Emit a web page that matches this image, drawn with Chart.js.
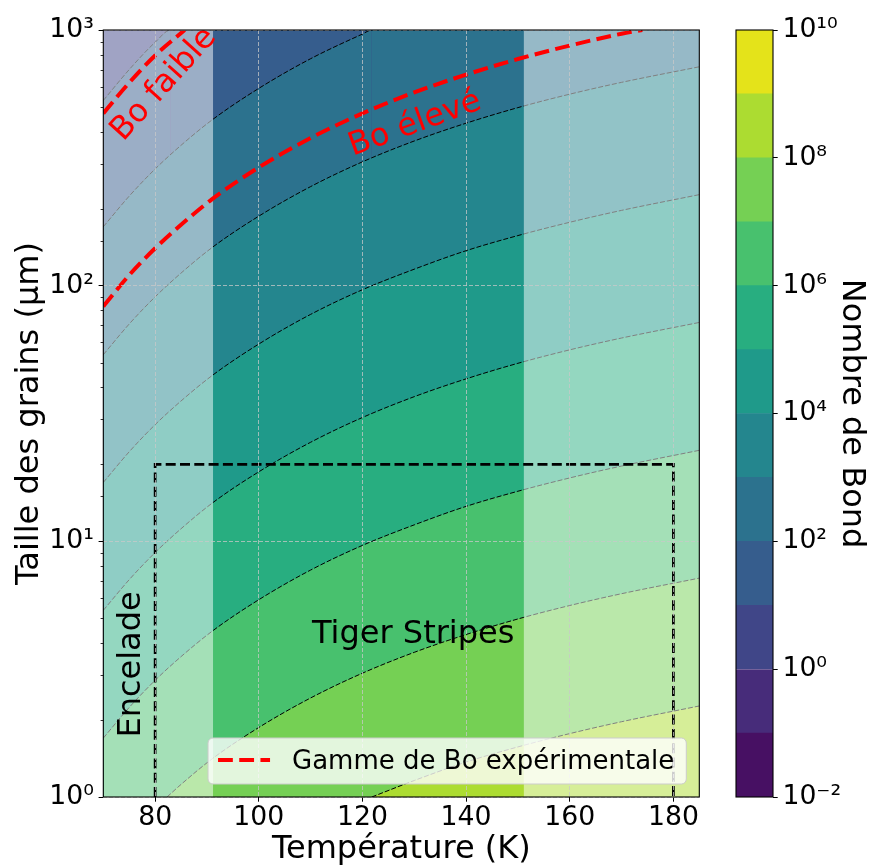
<!DOCTYPE html>
<html lang="fr">

<head>
    <meta charset="UTF-8">
    <title>Nombre de Bond</title>
    <script src="https://cdn.jsdelivr.net/npm/chart.js"></script>
    <style>
        body { margin: 0; background: #fff; }
        #cadre { position: relative; width: 874px; height: 866px; }
        #cadre canvas { position: absolute; top: 0; }
        #graphique { left: 0; }
        #barre { left: 700px; }
    </style>
</head>

<body>
    <div id="cadre">
        <canvas id="graphique" width="874" height="866"></canvas>
        <canvas id="barre" width="174" height="866"></canvas>
    </div>
</body>

</html>
<script>
    // contours iso-Bond : [température (K), taille de grain (µm)]
    const iso1e1 = [[70, 530], [75, 700], [80, 895], [83, 1000], [185, 1000]];
    const iso1e2 = [[70, 170], [75, 224], [80, 286], [85, 354], [91, 445], [100, 591], [110, 772], [120, 964], [121.8, 1000], [185, 1000]];
    const iso1e3 = [[70, 53.7], [75, 70.8], [80, 90.4], [85, 112], [91, 141], [100, 187], [110, 244], [120, 305], [130, 368], [140, 432], [150, 497], [160, 561], [170, 624], [185, 718]];
    const iso1e4 = [[70, 17.0], [75, 22.4], [80, 28.6], [85, 35.4], [91, 44.5], [100, 59.1], [110, 77.2], [120, 96.4], [130, 116], [140, 137], [150, 157], [160, 177], [170, 197], [185, 227]];
    const iso1e5 = [[70, 5.37], [75, 7.08], [80, 9.04], [85, 11.2], [91, 14.1], [100, 18.7], [110, 24.4], [120, 30.5], [130, 36.8], [140, 43.2], [150, 49.7], [160, 56.1], [170, 62.4], [185, 71.8]];
    const iso1e6 = [[70, 1.70], [75, 2.24], [80, 2.86], [85, 3.54], [91, 4.45], [100, 5.91], [110, 7.72], [120, 9.64], [130, 11.6], [140, 13.7], [150, 15.7], [160, 17.7], [170, 19.7], [185, 22.7]];
    const iso1e7 = [[82.3, 1], [85, 1.12], [91, 1.41], [100, 1.87], [110, 2.44], [120, 3.05], [130, 3.68], [140, 4.32], [150, 4.97], [160, 5.61], [170, 6.24], [185, 7.18]];
    const iso1e8 = [[121.8, 1], [130, 1.16], [140, 1.37], [150, 1.57], [160, 1.77], [170, 1.97], [185, 2.27]];
    const niveauxIso = [1, 2, 3, 4, 5, 6, 7, 8];

    // gamme de Bo expérimentale
    const boFaible = [[70, 472], [75, 622], [80, 795], [85.7, 1000]];
    const boEleve = [[70, 83], [75, 110], [80, 140], [85, 173], [91, 218], [100, 290], [110, 378], [120, 472], [130, 570], [140, 669], [150, 770], [160, 869], [170, 967], [174, 1000]];

    // zones hors Tiger Stripes (voilées) et boîte Encelade
    const zoneFroide = [70, 91.2];
    const zoneChaude = [151.1, 185];
    const boiteTiger = [[80, 1], [80, 20], [180, 20], [180, 1]];

    // bandes de la barre de couleur (exposant bas de chaque bande)
    const bandes = [-2, -1, 0, 1, 2, 3, 4, 5, 6, 7, 8, 9];
    const couleursBandes = ['#471063', '#472c7a', '#404688', '#365d8d', '#2c728e', '#24868e', '#1f9a8a', '#28ae80', '#48c16e', '#75d054', '#acdc31', '#e4e31a'];

    const ticksTemp = [80, 100, 120, 140, 160, 180];
    const ticksBarre = [-2, 0, 2, 4, 6, 8, 10];

    Chart.defaults.font.family = '"DejaVu Sans", sans-serif';
    Chart.defaults.color = '#000';

    var transparent = 'rgba(0,0,0,0)';
    var couleurGrille = 'rgba(200,200,200,0.75)';

    function exposant(n) {
        var sup = { '-': '⁻', '0': '⁰', '1': '¹', '2': '²', '3': '³', '4': '⁴', '5': '⁵', '6': '⁶', '7': '⁷', '8': '⁸', '9': '⁹' };
        return '10' + String(n).split('').map(c => sup[c]).join('');
    }

    function puissanceDix(v) {
        var e = Math.round(Math.log10(v));
        return Math.abs(Math.pow(10, e) - v) < 1e-9 * v;
    }

    function points(liste) {
        return liste.map(p => ({ x: p[0], y: p[1] }));
    }

    var datasets = [];

    // fond : bande 10^0 - 10^1
    datasets.push({
        data: points([[70, 1000], [185, 1000]]),
        fill: 'start', backgroundColor: couleursBandes[2], borderColor: transparent,
        pointRadius: 0, clip: 0, order: 100
    });

    [iso1e1, iso1e2, iso1e3, iso1e4, iso1e5, iso1e6, iso1e7, iso1e8].forEach((iso, i) => {
        datasets.push({
            data: points(iso),
            fill: 'start',
            backgroundColor: couleursBandes[bandes.indexOf(niveauxIso[i])],
            borderColor: '#000', borderWidth: 1, borderDash: [5, 2],
            pointRadius: 0, cubicInterpolationMode: 'monotone', clip: 0,
            segment: {
                borderColor: ctx => (ctx.p0.parsed.y >= 1000 && ctx.p1.parsed.y >= 1000) ? transparent : undefined
            },
            order: 90 - i
        });
    });

    [zoneFroide, zoneChaude].forEach(z => {
        datasets.push({
            data: points([[z[0], 1000], [z[1], 1000]]),
            fill: 'start', backgroundColor: 'rgba(255,255,255,0.5)', borderColor: transparent,
            pointRadius: 0, clip: 0, order: 20
        });
    });

    datasets.push({
        data: points(boiteTiger),
        fill: false, borderColor: '#000', borderWidth: 2.7, borderDash: [10, 4.3],
        pointRadius: 0, tension: 0, clip: 0, order: 10
    });

    datasets.push({
        label: 'Gamme de Bo expérimentale', enLegende: true,
        data: points(boFaible),
        fill: false, borderColor: '#ff0000', borderWidth: 4, borderDash: [14.8, 6.4],
        pointRadius: 0, cubicInterpolationMode: 'monotone', clip: 0, order: 5
    });
    datasets.push({
        data: points(boEleve),
        fill: false, borderColor: '#ff0000', borderWidth: 4, borderDash: [14.8, 6.4],
        pointRadius: 0, cubicInterpolationMode: 'monotone', clip: 0, order: 5
    });

    var habillage = {
        id: 'habillage',
        afterDraw(chart) {
            var ctx = chart.ctx;
            var a = chart.chartArea;
            var sx = chart.scales.x, sy = chart.scales.y;

            // petites graduations log
            ctx.save();
            ctx.strokeStyle = '#000';
            ctx.lineWidth = 0.8;
            sy.ticks.forEach(t => {
                if (puissanceDix(t.value)) return;
                var py = Math.round(sy.getPixelForValue(t.value)) + 0.5;
                ctx.beginPath();
                ctx.moveTo(a.left - 2.7, py);
                ctx.lineTo(a.left, py);
                ctx.stroke();
            });
            ctx.restore();

            function texte(str, t, d, angle, couleur) {
                ctx.save();
                ctx.translate(sx.getPixelForValue(t), sy.getPixelForValue(d));
                ctx.rotate(angle * Math.PI / 180);
                ctx.font = '32px "DejaVu Sans"';
                ctx.fillStyle = couleur;
                ctx.textAlign = 'center';
                ctx.textBaseline = 'alphabetic';
                ctx.fillText(str, 0, 0);
                ctx.restore();
            }
            texte('Bo faible', 82.9, 583, -48, '#ff0000');
            texte('Bo élevé', 130.7, 399, -20, '#ff0000');
            texte('Tiger Stripes', 129.8, 4.0, 0, '#000');
            texte('Encelade', 77.1, 3.3, -90, '#000');

            // légende
            var serie = chart.data.datasets.find(d => d.enLegende);
            ctx.save();
            ctx.font = '26px "DejaVu Sans"';
            var tw = ctx.measureText(serie.label).width;
            var w = 84 + tw + 12, h = 46;
            var bx = a.right - 13 - w, by = a.bottom - 13 - h;
            ctx.beginPath();
            ctx.roundRect(bx, by, w, h, 5);
            ctx.fillStyle = 'rgba(255,255,255,0.8)';
            ctx.fill();
            ctx.strokeStyle = '#cccccc';
            ctx.lineWidth = 1;
            ctx.stroke();
            ctx.beginPath();
            ctx.setLineDash(serie.borderDash);
            ctx.strokeStyle = serie.borderColor;
            ctx.lineWidth = serie.borderWidth;
            ctx.moveTo(bx + 10, by + 22);
            ctx.lineTo(bx + 62, by + 22);
            ctx.stroke();
            ctx.setLineDash([]);
            ctx.fillStyle = '#000';
            ctx.textAlign = 'left';
            ctx.textBaseline = 'alphabetic';
            ctx.fillText(serie.label, bx + 84, by + 31.3);
            ctx.restore();

            // cadre des axes
            ctx.save();
            ctx.strokeStyle = '#000';
            ctx.lineWidth = 1.1;
            ctx.strokeRect(a.left, a.top, a.right - a.left, a.bottom - a.top);
            ctx.restore();
        }
    };

    var contourBarre = {
        id: 'contourBarre',
        afterDraw(chart) {
            var a = chart.chartArea;
            chart.ctx.save();
            chart.ctx.strokeStyle = '#000';
            chart.ctx.lineWidth = 1.1;
            chart.ctx.strokeRect(a.left, a.top, a.right - a.left, a.bottom - a.top);
            chart.ctx.restore();
        }
    };

    var graphique = new Chart(document.getElementById('graphique').getContext('2d'), {
        type: 'line',
        data: { datasets: datasets },
        options: {
            responsive: false,
            animation: false,
            events: [],
            layout: { padding: { top: 30, right: 174.7, left: 0, bottom: 0 } },
            plugins: { legend: { display: false }, tooltip: { enabled: false } },
            scales: {
                x: {
                    type: 'linear', min: 70, max: 185,
                    afterBuildTicks: s => { s.ticks = ticksTemp.map(v => ({ value: v })); },
                    afterFit: s => { s.height = 69; },
                    ticks: { font: { size: 26.7 }, padding: 0, maxRotation: 0, color: '#000' },
                    grid: { color: couleurGrille, lineWidth: 1, tickLength: 4.7, tickColor: '#000', tickWidth: 1, z: 1 },
                    border: { display: false, dash: [4, 2] },
                    title: { display: true, text: 'Température (K)', color: '#000', font: { size: 32, lineHeight: 1 }, padding: { top: 0, bottom: 0 } }
                },
                y: {
                    type: 'logarithmic', min: 1, max: 1000,
                    afterFit: s => { s.width = 103.3; },
                    ticks: {
                        autoSkip: false, font: { size: 26.7 }, padding: 4.7, color: '#000',
                        callback: v => puissanceDix(v) ? exposant(Math.round(Math.log10(v))) : ''
                    },
                    grid: {
                        color: ctx => puissanceDix(ctx.tick.value) ? couleurGrille : transparent,
                        tickColor: ctx => puissanceDix(ctx.tick.value) ? '#000' : transparent,
                        lineWidth: 1, tickLength: 4.7, tickWidth: 1, z: 1
                    },
                    border: { display: false, dash: [4, 2] },
                    title: { display: true, text: 'Taille des grains (µm)', color: '#000', font: { size: 32, lineHeight: 1 }, padding: { top: 13.5, bottom: 0 } }
                }
            }
        },
        plugins: [habillage]
    });

    var barre = new Chart(document.getElementById('barre').getContext('2d'), {
        type: 'bar',
        data: {
            labels: [''],
            datasets: bandes.map((b, i) => ({
                data: [[b, b + 1]],
                backgroundColor: couleursBandes[i],
                borderWidth: 0,
                barPercentage: 1,
                categoryPercentage: 1,
                grouped: false
            }))
        },
        options: {
            responsive: false,
            animation: false,
            events: [],
            layout: { padding: { top: 30, bottom: 69, left: 36, right: 0 } },
            plugins: { legend: { display: false }, tooltip: { enabled: false } },
            scales: {
                x: { display: false },
                y: {
                    position: 'right', min: -2, max: 10,
                    afterBuildTicks: s => { s.ticks = ticksBarre.map(v => ({ value: v })); },
                    afterFit: s => { s.width = 101; },
                    ticks: { callback: v => exposant(v), font: { size: 26.7 }, padding: 4.7, color: '#000' },
                    grid: { drawOnChartArea: false, tickLength: 4.7, tickColor: '#000', tickWidth: 1 },
                    border: { display: false },
                    title: { display: true, text: 'Nombre de Bond', color: '#000', font: { size: 32, lineHeight: 1 }, padding: { top: 6.5, bottom: 0 } }
                }
            }
        },
        plugins: [contourBarre]
    });
</script>
